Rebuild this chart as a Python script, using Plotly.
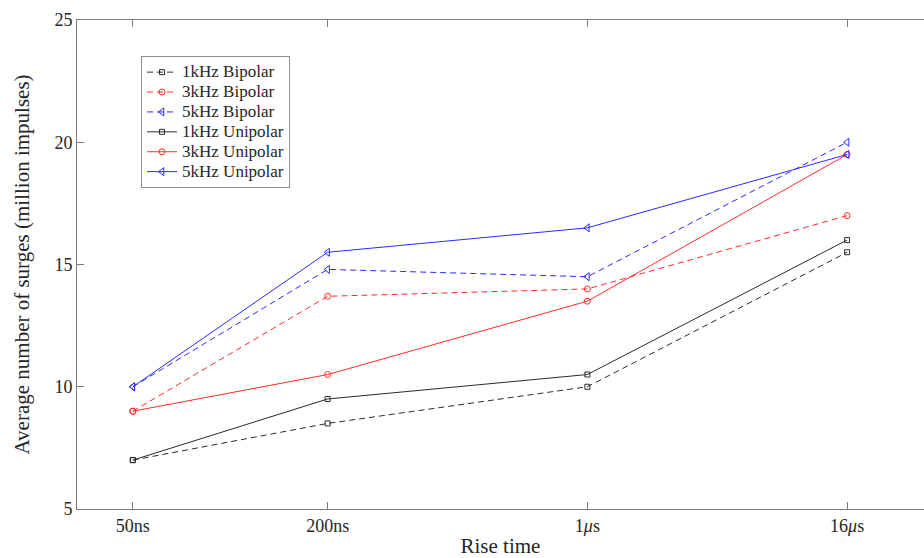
import plotly.graph_objects as go

# Categories (rise time) and their positions on the x axis
categories = ["50ns", "200ns", "1<i>μ</i>s", "16<i>μ</i>s"]
cat_pos = [1.0, 1.75, 2.75, 3.75]

# Series values (million impulses)
bip_1k = [7.0, 8.5, 10.0, 15.5]
bip_3k = [9.0, 13.7, 14.0, 17.0]
bip_5k = [10.0, 14.8, 14.5, 20.0]
uni_1k = [7.0, 9.5, 10.5, 16.0]
uni_3k = [9.0, 10.5, 13.5, 19.5]
uni_5k = [10.0, 15.5, 16.5, 19.5]

y_ticks = [5, 10, 15, 20, 25]

FONT = "Liberation Serif, Times New Roman, serif"
BLACK = "#2b2b2b"
RED = "#ff2a2a"
BLUE = "#2a2aff"

series = [
    ("1kHz Bipolar", bip_1k, BLACK, "dash", "square-open", 5),
    ("3kHz Bipolar", bip_3k, RED, "dash", "circle-open", 6),
    ("5kHz Bipolar", bip_5k, BLUE, "dash", "triangle-left-open", 7),
    ("1kHz Unipolar", uni_1k, BLACK, "solid", "square-open", 5),
    ("3kHz Unipolar", uni_3k, RED, "solid", "circle-open", 6),
    ("5kHz Unipolar", uni_5k, BLUE, "solid", "triangle-left-open", 7),
]

fig = go.Figure()
for name, vals, col, dash, sym, size in series:
    fig.add_trace(go.Scatter(
        x=cat_pos, y=vals,
        name='<span style="font-size:17px">' + name + '</span>',
        mode="lines+markers",
        line=dict(color=col, width=1, dash="6px,4px" if dash == "dash" else "solid"),
        marker=dict(symbol=sym, size=size, color=col, line=dict(color=col, width=1)),
    ))

axis_col = "#7a7a7a"
fig.update_layout(
    width=924, height=558,
    margin=dict(l=77, r=0, t=20, b=49),
    paper_bgcolor="white", plot_bgcolor="white",
    font=dict(family=FONT, color="#262626", size=18),
    showlegend=True,
    legend=dict(
        x=0.0756, y=0.926, xanchor="left", yanchor="top",
        bgcolor="white", bordercolor="#8c8c8c", borderwidth=1,
        font=dict(family=FONT, size=13, color="#262626"),
        itemwidth=30, tracegroupgap=0,
    ),
    xaxis=dict(
        range=[0.785, 4.046], automargin=False,
        tickmode="array", tickvals=cat_pos, ticktext=categories,
        ticks="inside", ticklen=7, tickcolor=axis_col, tickwidth=1,
        showline=True, linecolor=axis_col, linewidth=1, mirror="ticks",
        showgrid=False, zeroline=False,
        title=dict(text="Rise time", font=dict(size=21, family=FONT), standoff=10),
        tickfont=dict(size=18, family=FONT),
    ),
    yaxis=dict(
        range=[5, 25], automargin=False,
        tickmode="array", tickvals=y_ticks,
        ticks="inside", ticklen=7, tickcolor=axis_col, tickwidth=1,
        showline=True, linecolor=axis_col, linewidth=1, mirror=False,
        showgrid=False, zeroline=False,
        title=dict(text="Average number of surges (million impulses)", font=dict(size=21, family=FONT), standoff=19),
        tickfont=dict(size=18, family=FONT),
    ),
)

fig.write_html(
    "out.html",
    config={"displayModeBar": False},
    post_script="document.body.style.margin='0';document.body.style.overflow='hidden';",
)
